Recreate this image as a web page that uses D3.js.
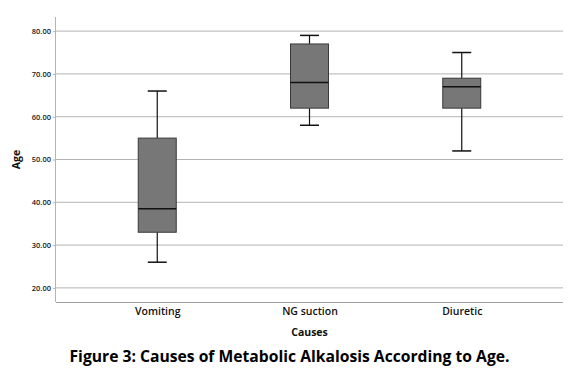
<!DOCTYPE html>
<html>
<head>
<meta charset="utf-8">
<script src="https://cdn.jsdelivr.net/npm/d3@7"></script>
<style>
  body { margin: 0; background: #fff; }
  svg { display: block; }
</style>
</head>
<body>
<script>
// ---- data ----
const categories = ["Vomiting", "NG suction", "Diuretic"];
const whiskerLow  = [26, 58, 52];
const q1          = [33, 62, 62];
const median      = [38.5, 68, 67];
const q3          = [55, 77, 69];
const whiskerHigh = [66, 79, 75];
const yTicks = [20, 30, 40, 50, 60, 70, 80];
const yLabel = "Age";
const xLabel = "Causes";
const caption = "Figure 3: Causes of Metabolic Alkalosis According to Age.";

const W = 579, H = 374;
const margin = { left: 56, right: 16, top: 17, bottom: 72 };
const svg = d3.select("body").append("svg").attr("width", W).attr("height", H);

const x = d3.scalePoint().domain(categories)
  .range([margin.left, W - margin.right]).padding(0.665);
const y = d3.scaleLinear().domain([16.7, 83.3]).range([H - margin.bottom, margin.top]);

// gridlines
svg.append("g").selectAll("line").data(yTicks).join("line")
  .attr("x1", margin.left).attr("x2", W - margin.right)
  .attr("y1", d => y(d)).attr("y2", d => y(d))
  .attr("stroke", "#b4b4b4").attr("stroke-width", 1);

// y axis
const yAxis = d3.axisLeft(y).tickValues(yTicks).tickFormat(d3.format(".2f")).tickSize(3).tickPadding(2);
const gy = svg.append("g").attr("transform", `translate(${margin.left},0)`).call(yAxis);
gy.select(".domain").attr("stroke", "#b4b4b4").attr("d", `M-0.5,${y(83.3)}V${y(16.7)}`);
gy.selectAll(".tick line").attr("stroke", "#b4b4b4");
gy.selectAll(".tick text").attr("fill", "#222").attr("font-family", "Open Sans, sans-serif")
  .attr("font-size", 7.5).attr("font-weight", 600);

// x axis
const xAxis = d3.axisBottom(x).tickSize(0).tickPadding(6);
const gx = svg.append("g").attr("transform", `translate(0,${y(16.7)})`).call(xAxis);
gx.select(".domain").attr("stroke", "#a0a0a0").attr("d", `M${margin.left},0.5H${W - margin.right}`);
gx.selectAll(".tick text").attr("fill", "#111").attr("font-family", "Open Sans, sans-serif")
  .attr("font-size", 10.5).attr("font-weight", 600);

// boxes
const boxW = 38, capW = 19;
const boxes = svg.append("g").selectAll("g").data(categories).join("g");
boxes.append("line")
  .attr("x1", d => x(d)).attr("x2", d => x(d))
  .attr("y1", (d, i) => y(whiskerHigh[i])).attr("y2", (d, i) => y(q3[i]))
  .attr("stroke", "#111").attr("stroke-width", 1.2);
boxes.append("line")
  .attr("x1", d => x(d)).attr("x2", d => x(d))
  .attr("y1", (d, i) => y(q1[i])).attr("y2", (d, i) => y(whiskerLow[i]))
  .attr("stroke", "#111").attr("stroke-width", 1.2);
boxes.append("line")
  .attr("x1", d => x(d) - capW / 2).attr("x2", d => x(d) + capW / 2)
  .attr("y1", (d, i) => y(whiskerHigh[i])).attr("y2", (d, i) => y(whiskerHigh[i]))
  .attr("stroke", "#111").attr("stroke-width", 1.5);
boxes.append("line")
  .attr("x1", d => x(d) - capW / 2).attr("x2", d => x(d) + capW / 2)
  .attr("y1", (d, i) => y(whiskerLow[i])).attr("y2", (d, i) => y(whiskerLow[i]))
  .attr("stroke", "#111").attr("stroke-width", 1.5);
boxes.append("rect")
  .attr("x", d => x(d) - boxW / 2).attr("width", boxW)
  .attr("y", (d, i) => y(q3[i])).attr("height", (d, i) => y(q1[i]) - y(q3[i]))
  .attr("fill", "#777777").attr("stroke", "#3a3a3a").attr("stroke-width", 1);
boxes.append("line")
  .attr("x1", d => x(d) - boxW / 2).attr("x2", d => x(d) + boxW / 2)
  .attr("y1", (d, i) => y(median[i])).attr("y2", (d, i) => y(median[i]))
  .attr("stroke", "#111").attr("stroke-width", 1.5);

// axis titles
svg.append("text").attr("transform", `translate(20,${(y(83.3) + y(16.7)) / 2}) rotate(-90)`)
  .attr("text-anchor", "middle").attr("font-family", "Open Sans, sans-serif")
  .attr("font-weight", 700).attr("font-size", 10.5).attr("fill", "#111").text(yLabel);
svg.append("text").attr("x", (margin.left + W - margin.right) / 2).attr("y", 336)
  .attr("text-anchor", "middle").attr("font-family", "Open Sans, sans-serif")
  .attr("font-weight", 700).attr("font-size", 10.5).attr("fill", "#111").text(xLabel);

// caption
svg.append("text").attr("x", 289.5).attr("y", 362)
  .attr("text-anchor", "middle").attr("font-family", "Open Sans, sans-serif")
  .attr("font-weight", 700).attr("font-size", 15.5).attr("fill", "#000")
  .attr("textLength", 440).attr("lengthAdjust", "spacingAndGlyphs").text(caption);
</script>
</body>
</html>
